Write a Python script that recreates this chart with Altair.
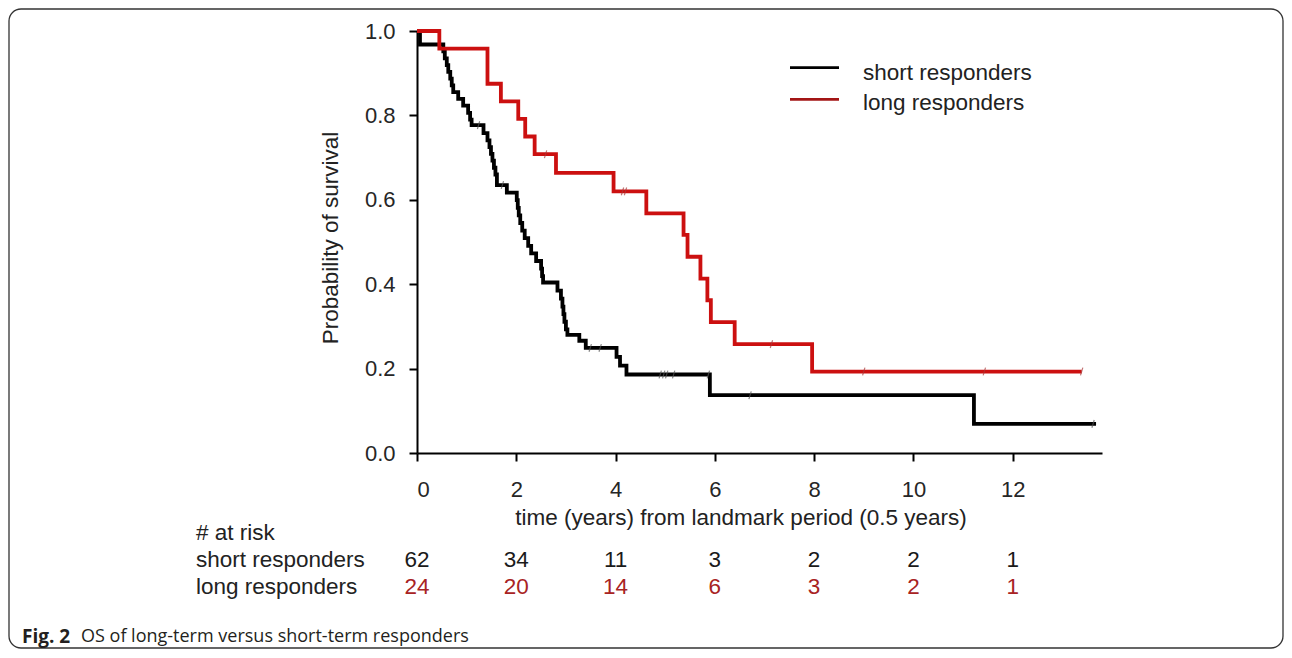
import altair as alt
import pandas as pd

# ---- data ----
short_t = [0, 0.06, 0.53, 0.56, 0.60, 0.63, 0.67, 0.70, 0.73, 0.83, 0.93, 1.03, 1.07, 1.10,
           1.34, 1.42, 1.46, 1.49, 1.52, 1.55, 1.58, 1.61, 1.81, 2.01, 2.03, 2.05, 2.08,
           2.12, 2.17, 2.24, 2.30, 2.40, 2.50, 2.52, 2.54, 2.83, 2.90, 2.93, 2.95, 2.97,
           3.00, 3.03, 3.27, 3.40, 4.02, 4.09, 4.22, 5.90, 11.22, 13.68]
short_s = [1.0, 0.968, 0.952, 0.935, 0.919, 0.903, 0.887, 0.871, 0.855, 0.839, 0.823, 0.806, 0.790, 0.777,
           0.758, 0.741, 0.725, 0.709, 0.693, 0.676, 0.660, 0.635, 0.617, 0.599, 0.581, 0.563, 0.545,
           0.527, 0.509, 0.491, 0.473, 0.455, 0.437, 0.419, 0.404, 0.385, 0.366, 0.347, 0.329, 0.311,
           0.293, 0.280, 0.266, 0.249, 0.228, 0.207, 0.186, 0.137, 0.069, 0.069]
short_cens_t = [1.24, 1.72, 3.49, 3.69, 4.90, 4.97, 5.03, 5.17, 5.87, 6.71, 13.62]
short_cens_s = [0.777, 0.635, 0.249, 0.249, 0.186, 0.186, 0.186, 0.186, 0.186, 0.137, 0.069]

long_t = [0, 0.45, 1.42, 1.69, 2.04, 2.18, 2.37, 2.80, 3.96, 4.62, 5.37, 5.45, 5.71, 5.85,
          5.92, 6.40, 7.96, 13.39]
long_s = [1.0, 0.958, 0.875, 0.833, 0.792, 0.750, 0.708, 0.664, 0.620, 0.568, 0.517, 0.465,
          0.413, 0.362, 0.310, 0.258, 0.193, 0.193]
long_cens_t = [2.59, 4.14, 4.20, 7.14, 9.00, 11.43, 13.39]
long_cens_s = [0.708, 0.620, 0.620, 0.258, 0.193, 0.193, 0.193]

risk_times = [0, 2, 4, 6, 8, 10, 12]
risk_short = [62, 34, 11, 3, 2, 2, 1]
risk_long = [24, 20, 14, 6, 3, 2, 1]

groups = ["short responders", "long responders"]
line_colors = ["#000000", "#cc1010"]
cens_colors = ["#555555", "#a83a3a"]
risk_colors = ["#1a1a1a", "#a82323"]

FONT = "Liberation Sans"
FS = 22.5

curves = pd.DataFrame(
    [{"t": t, "s": s, "g": groups[0], "col": line_colors[0]} for t, s in zip(short_t, short_s)]
    + [{"t": t, "s": s, "g": groups[1], "col": line_colors[1]} for t, s in zip(long_t, long_s)]
)
cens = pd.DataFrame(
    [{"t": t, "s": s, "col": cens_colors[0]} for t, s in zip(short_cens_t, short_cens_s)]
    + [{"t": t, "s": s, "col": cens_colors[1]} for t, s in zip(long_cens_t, long_cens_s)]
)
risk_s_df = pd.DataFrame({"t": risk_times, "n": [str(v) for v in risk_short], "col": risk_colors[0]})
risk_l_df = pd.DataFrame({"t": risk_times, "n": [str(v) for v in risk_long], "col": risk_colors[1]})

xscale = alt.Scale(domain=[0, 13.8], nice=False, zero=False)
yscale = alt.Scale(domain=[0, 1], nice=False)

axis_common = dict(
    labelFont=FONT, labelFontSize=22, labelColor="#262626",
    tickColor="#000000", tickWidth=2, tickSize=8,
    domainColor="#000000", domainWidth=2, grid=False, title=None,
)

xenc = alt.X("t:Q", scale=xscale,
             axis=alt.Axis(values=[0, 2, 4, 6, 8, 10, 12], labelPadding=18, **axis_common))
yenc = alt.Y("s:Q", scale=yscale,
             axis=alt.Axis(values=[0, 0.2, 0.4, 0.6, 0.8, 1.0], format=".1f", labelPadding=14, **axis_common))

lines = alt.Chart(curves).mark_line(interpolate="step-after", strokeWidth=3.8).encode(
    x=xenc, y=yenc,
    color=alt.Color("col:N", scale=None),
    detail="g:N",
)

marks = alt.Chart(cens).mark_point(
    shape="M-0.3,1L0.3,-1", filled=False, size=60, strokeWidth=1.2
).encode(
    x=alt.X("t:Q", scale=xscale),
    y=alt.Y("s:Q", scale=yscale),
    color=alt.Color("col:N", scale=None),
)

ROW_H = 502
ROW_S = 529
ROW_L = 556

risk_short_txt = alt.Chart(risk_s_df).mark_text(font=FONT, fontSize=FS, baseline="middle").encode(
    x=alt.X("t:Q", scale=xscale), y=alt.value(ROW_S), text="n:N",
    color=alt.Color("col:N", scale=None),
)
risk_long_txt = alt.Chart(risk_l_df).mark_text(font=FONT, fontSize=FS, baseline="middle").encode(
    x=alt.X("t:Q", scale=xscale), y=alt.value(ROW_L), text="n:N",
    color=alt.Color("col:N", scale=None),
)

one = pd.DataFrame({"k": [0]})

def label(text, x, y, size=FS, align="left", color="#222222", angle=0, font=FONT, weight="normal"):
    return alt.Chart(one).mark_text(
        text=text, font=font, fontSize=size, align=align, baseline="middle",
        color=color, angle=angle, fontWeight=weight
    ).encode(x=alt.value(x), y=alt.value(y))

texts = [
    label("Probability of survival", -86, 207, angle=270, align="center"),
    label("time (years) from landmark period (0.5 years)", 324, 487, align="center"),
    label("# at risk", -221, ROW_H),
    label("short responders", -221, ROW_S),
    label("long responders", -221, ROW_L),
    label("short responders", 446, 41.5),
    label("long responders", 446, 72),
    label("Fig. 2", -395, 606, size=19, font="Open Sans", weight="bold", color="#231f20"),
    label("OS of long-term versus short-term responders", -336, 606, size=18, font="Open Sans", color="#231f20"),
]

leg_black = alt.Chart(one).mark_rule(color="#000000", strokeWidth=2.8).encode(
    x=alt.value(373), x2=alt.value(422), y=alt.value(36.7))
leg_red = alt.Chart(one).mark_rule(color="#a31515", strokeWidth=2.8).encode(
    x=alt.value(373), x2=alt.value(422), y=alt.value(68.3))

border = alt.Chart(one).mark_rect(
    fill=None, stroke="#333333", strokeWidth=1.3, cornerRadius=12
).encode(x=alt.value(-408), x2=alt.value(866), y=alt.value(-22), y2=alt.value(617))

chart = alt.layer(border, lines, marks, risk_short_txt, risk_long_txt, leg_black, leg_red, *texts).properties(
    width=685, height=422,
    padding={"left": 409, "top": 23, "right": 182, "bottom": 196},
    autosize=alt.AutoSizeParams(type="none"),
    background="white",
).configure_view(stroke=None)

chart.save("out.html", embed_options={"renderer": "svg", "actions": False})
